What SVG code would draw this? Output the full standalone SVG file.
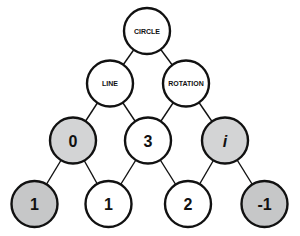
<svg xmlns="http://www.w3.org/2000/svg" width="300" height="236" viewBox="0 0 300 236">
<style>
.n{stroke:#111;stroke-width:2.4}
.w{fill:#fff}.g{fill:#d3d4d5}.d{fill:#c6c7c8}
.e{stroke:#111;stroke-width:1.4}
.s{font-family:"Liberation Sans",Arial,sans-serif;font-weight:bold;font-size:7px;text-anchor:middle;fill:#111}
.b{font-family:"Liberation Sans",Arial,sans-serif;font-weight:bold;font-size:16px;text-anchor:middle;fill:#111}
</style>
<rect width="300" height="236" fill="#fff"/>
<g id="edges">
<line class="e" x1="147" y1="31" x2="110" y2="83.5"/>
<line class="e" x1="147" y1="31" x2="186" y2="83.5"/>
<line class="e" x1="110" y1="83.5" x2="73" y2="140.5"/>
<line class="e" x1="110" y1="83.5" x2="148" y2="140.5"/>
<line class="e" x1="186" y1="83.5" x2="148" y2="140.5"/>
<line class="e" x1="186" y1="83.5" x2="225" y2="140.5"/>
<line class="e" x1="73" y1="140.5" x2="34.5" y2="204"/>
<line class="e" x1="73" y1="140.5" x2="108.5" y2="204"/>
<line class="e" x1="148" y1="140.5" x2="108.5" y2="204"/>
<line class="e" x1="148" y1="140.5" x2="188" y2="204"/>
<line class="e" x1="225" y1="140.5" x2="188" y2="204"/>
<line class="e" x1="225" y1="140.5" x2="264.5" y2="204"/>
</g>
<g id="circle"><circle class="n w" cx="147" cy="31" r="23"/><text class="s" x="147" y="33.5">CIRCLE</text></g>
<g id="line"><circle class="n w" cx="110" cy="83.5" r="23"/><text class="s" x="110" y="86">LINE</text></g>
<g id="rotation"><circle class="n w" cx="186" cy="83.5" r="23"/><text class="s" x="186" y="86">ROTATION</text></g>
<g id="n0"><circle class="n g" cx="73" cy="140.5" r="23"/><text class="b" x="73" y="146.5">0</text></g>
<g id="n3"><circle class="n w" cx="148" cy="140.5" r="23"/><text class="b" x="148" y="146.5">3</text></g>
<g id="ni"><circle class="n g" cx="225" cy="140.5" r="23"/><text class="b" x="225" y="146.5" font-style="italic">i</text></g>
<g id="n1a"><circle class="n d" cx="34.5" cy="204" r="23"/><text class="b" x="34.5" y="210">1</text></g>
<g id="n1b"><circle class="n w" cx="108.5" cy="204" r="23"/><text class="b" x="108.5" y="210">1</text></g>
<g id="n2"><circle class="n w" cx="188" cy="204" r="23"/><text class="b" x="188" y="210">2</text></g>
<g id="nm1"><circle class="n d" cx="264.5" cy="204" r="23"/><text class="b" x="264.5" y="210">-1</text></g>
</svg>
